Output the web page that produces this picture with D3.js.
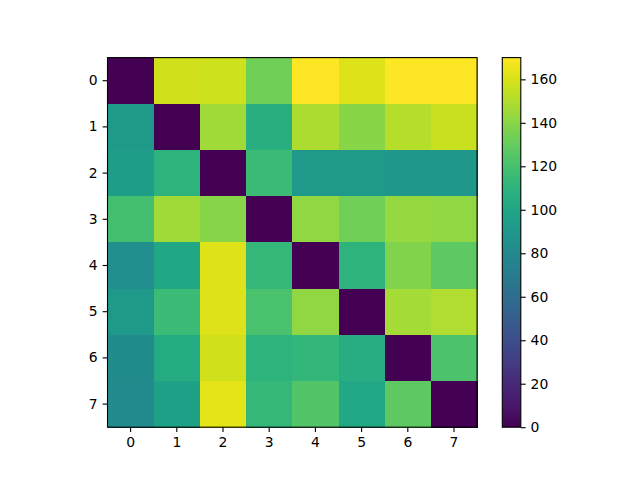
<!DOCTYPE html>
<html><head><meta charset="utf-8">
<script src="https://cdn.jsdelivr.net/npm/d3@7"></script>
<style>body{margin:0;background:#fff}svg{display:block}</style>
</head><body>
<svg id="c" width="640" height="480"></svg>
<script>
const rowLabels = ["0","1","2","3","4","5","6","7"];
const colLabels = ["0","1","2","3","4","5","6","7"];
const matrix = [
  [0, 158, 157, 133, 170, 161, 170, 170],
  [91, 0, 146, 107, 149, 140, 151, 156],
  [94, 110, 0, 116, 91, 91, 90, 90],
  [119, 146, 139, 0, 142, 133, 143, 142],
  [84, 101, 161, 113, 0, 110, 138, 128],
  [92, 116, 161, 121, 142, 0, 147, 150],
  [82, 104, 158, 110, 112, 106, 0, 122],
  [81, 97, 163, 113, 124, 102, 128, 0]
];
const cbTicks = [0,20,40,60,80,100,120,140,160];
const vmin = 0, vmax = 170;

const svg = d3.select("#c");
const L = 107.5, T = 57.6, S = 369.6;
const font = "DejaVu Sans, sans-serif", fs = 13.9;

const x = d3.scaleBand().domain(colLabels).range([L, L+S]);
const y = d3.scaleBand().domain(rowLabels).range([T, T+S]);
const color = d3.scaleSequential(d3.interpolateViridis).domain([vmin, vmax]);

const cells = [];
matrix.forEach((row,i)=>row.forEach((v,j)=>cells.push({r:rowLabels[i],c:colLabels[j],v})));
svg.append("g").selectAll("rect").data(cells).join("rect")
  .attr("x", d=>x(d.c)).attr("y", d=>y(d.r))
  .attr("width", x.bandwidth()+0.5).attr("height", y.bandwidth()+0.5)
  .attr("fill", d=>color(d.v)).attr("shape-rendering","crispEdges");

svg.append("rect").attr("x",L).attr("y",T).attr("width",S).attr("height",S)
  .attr("fill","none").attr("stroke","#000").attr("stroke-width",1.1);

function styleAxis(g){
  g.selectAll("path.domain").remove();
  g.selectAll(".tick line").attr("stroke","#000").attr("stroke-width",1.1);
  g.selectAll(".tick text").attr("font-family",font).attr("font-size",fs).attr("fill","#000");
}
svg.append("g").attr("transform",`translate(0,${T+S})`)
  .call(d3.axisBottom(x).tickSizeOuter(0).tickSize(4.9).tickPadding(4.9)).call(styleAxis);
svg.append("g").attr("transform",`translate(${L},0)`)
  .call(d3.axisLeft(y).tickSizeOuter(0).tickSize(4.9).tickPadding(4.9)).call(styleAxis);

// colorbar
const cbX = 502.3, cbW = 18.5;
const cy = d3.scaleLinear().domain([vmin, vmax]).range([T+S, T]);
const defs = svg.append("defs");
const grad = defs.append("linearGradient").attr("id","vg").attr("x1",0).attr("y1",1).attr("x2",0).attr("y2",0);
d3.range(0,1.0001,0.02).forEach(t=>grad.append("stop").attr("offset",t).attr("stop-color",d3.interpolateViridis(t)));
svg.append("rect").attr("x",cbX).attr("y",T).attr("width",cbW).attr("height",S).attr("fill","url(#vg)");
svg.append("rect").attr("x",cbX).attr("y",T).attr("width",cbW).attr("height",S)
  .attr("fill","none").attr("stroke","#000").attr("stroke-width",1.1);
svg.append("g").attr("transform",`translate(${cbX+cbW},0)`)
  .call(d3.axisRight(cy).tickValues(cbTicks).tickSizeOuter(0).tickSize(4.9).tickPadding(4.9)).call(styleAxis);
</script>
</body></html>
